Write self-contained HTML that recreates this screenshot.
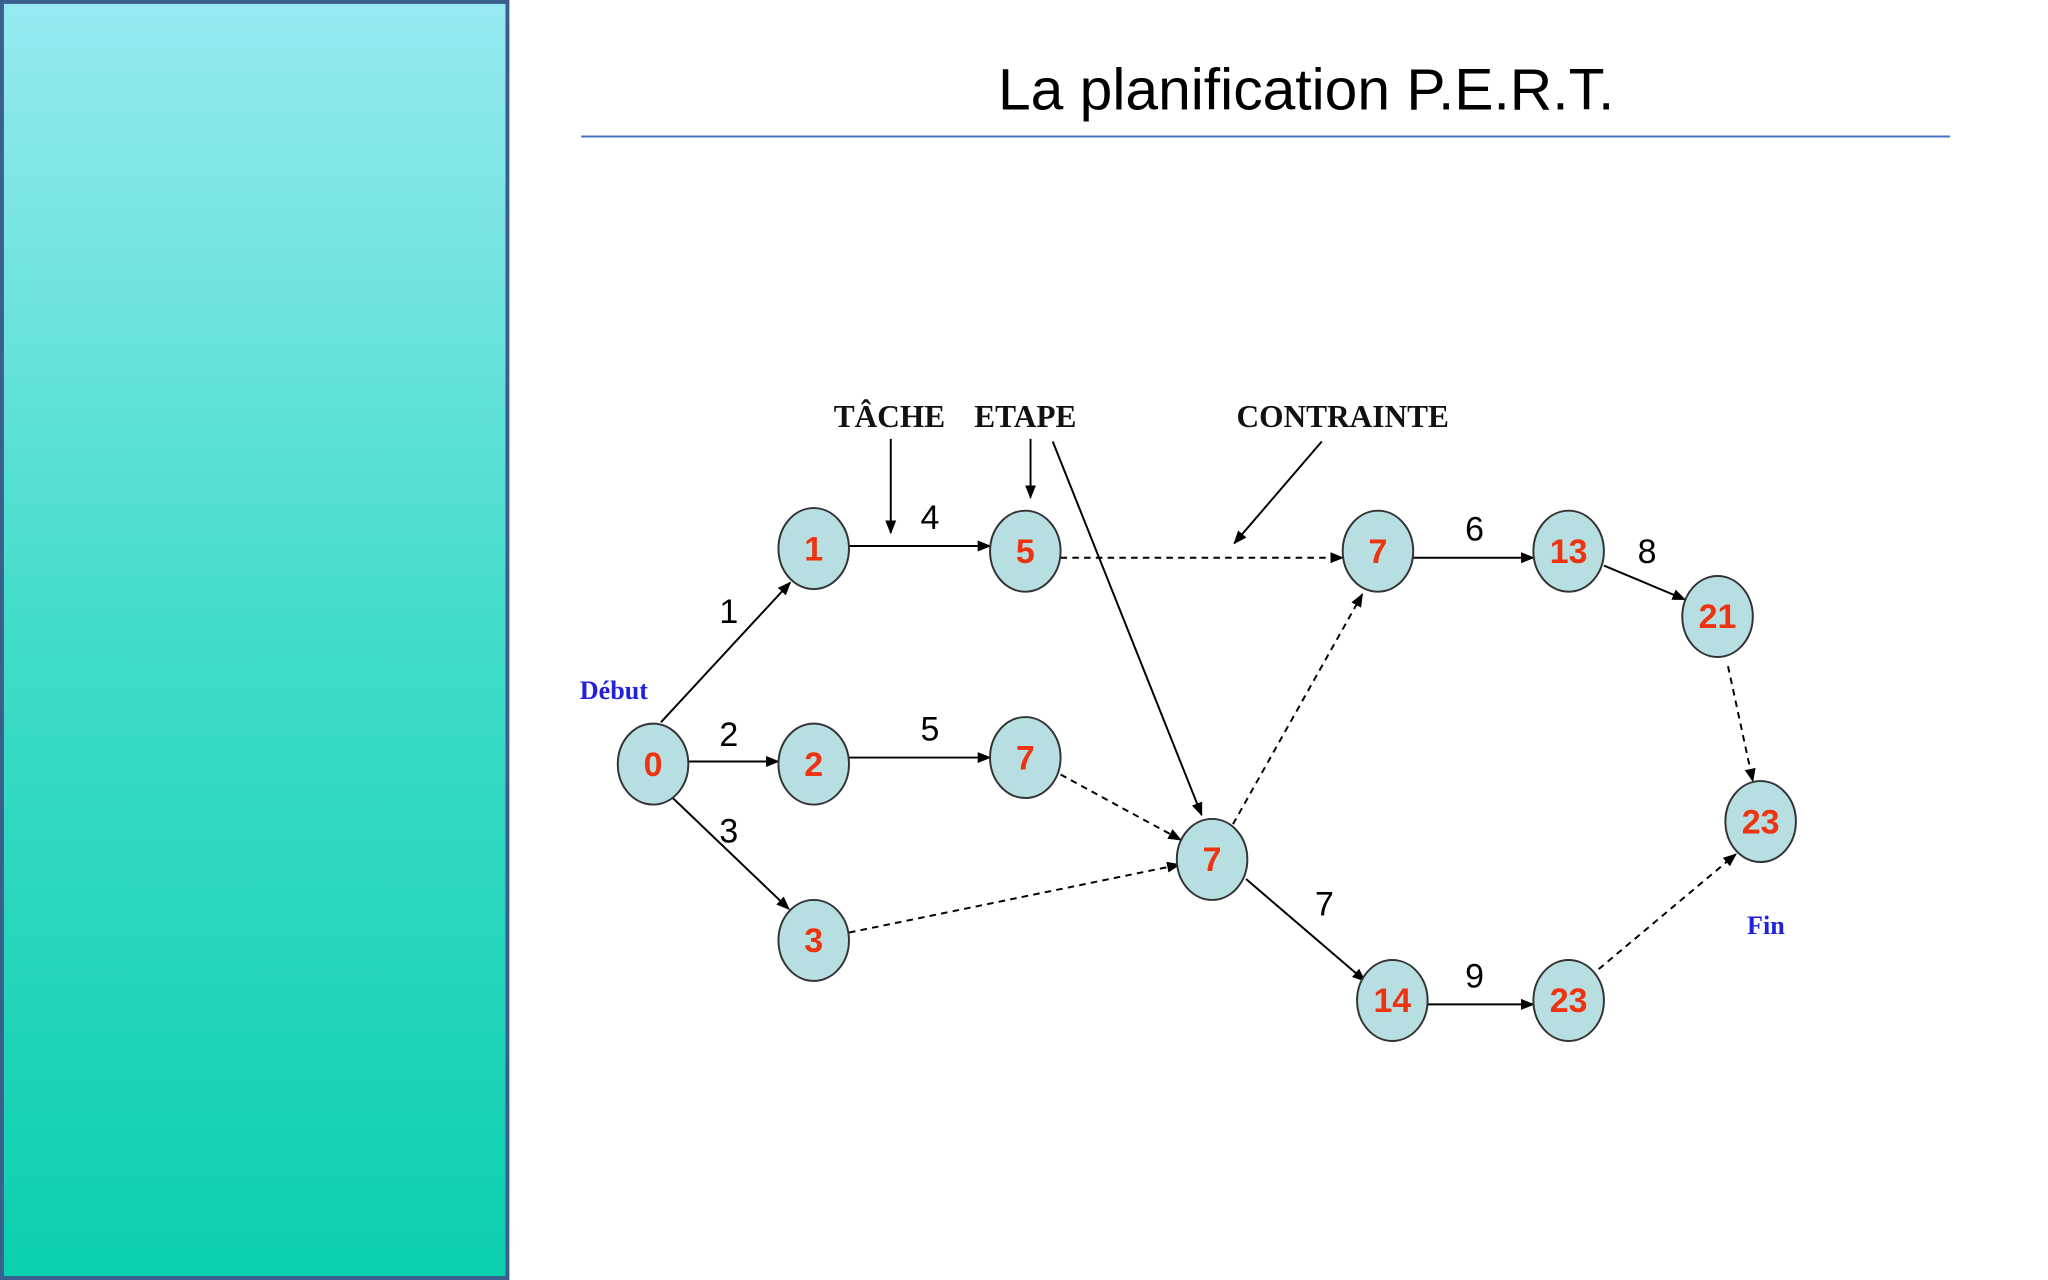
<!DOCTYPE html>
<html><head><meta charset="utf-8"><style>
html,body{margin:0;padding:0;width:2048px;height:1280px;overflow:hidden;background:#fff}
</style></head><body>
<svg width="2048" height="1280" viewBox="0 0 1568 980" xmlns="http://www.w3.org/2000/svg">
<defs>
<linearGradient id="g" x1="0" y1="0" x2="0" y2="1">
<stop offset="0" stop-color="#97e9f2"/><stop offset="0.5" stop-color="#3fdcc8"/><stop offset="1" stop-color="#0bcfae"/>
</linearGradient>
<marker id="a" viewBox="0 0 10 10" refX="9" refY="5" markerWidth="7" markerHeight="7" orient="auto"><path d="M0,1 L10,5 L0,9 z" fill="#000"/></marker>
</defs>
<rect x="1.5" y="1.5" width="387" height="977" fill="url(#g)" stroke="#3a5f8f" stroke-width="3"/>
<text x="1000" y="84" font-family="Liberation Sans, sans-serif" font-size="45" text-anchor="middle" fill="#000">La planification P.E.R.T.</text>
<line x1="445" y1="104.5" x2="1493" y2="104.5" stroke="#4472c4" stroke-width="1.5"/>
<g font-family="Liberation Serif, serif" font-weight="bold" font-size="24" fill="#111" text-anchor="middle">
<text x="681" y="327">TÂCHE</text><text x="785" y="327">ETAPE</text><text x="1028" y="327">CONTRAINTE</text>
</g>
<g font-family="Liberation Serif, serif" font-weight="bold" font-size="20" fill="#2222dd" text-anchor="middle">
<text x="470" y="535">Début</text><text x="1352" y="715">Fin</text>
</g>
<g stroke="#000" stroke-width="1.5" fill="none" marker-end="url(#a)">
<line x1="682" y1="336" x2="682" y2="408"/>
<line x1="789" y1="336" x2="789" y2="381"/>
<line x1="806" y1="338" x2="920" y2="624"/>
<line x1="1012" y1="338" x2="945" y2="416"/>
<line x1="506" y1="553" x2="605" y2="446"/>
<line x1="527" y1="583" x2="596" y2="583"/>
<line x1="512" y1="608" x2="604" y2="696"/>
<line x1="650" y1="418" x2="758" y2="418"/>
<line x1="650" y1="580" x2="758" y2="580"/>
<line x1="1082" y1="427" x2="1174" y2="427"/>
<line x1="1228" y1="433" x2="1290" y2="459"/>
<line x1="954" y1="673" x2="1045" y2="751"/>
<line x1="1093" y1="769" x2="1174" y2="769"/>
</g>
<g stroke="#000" stroke-width="1.5" fill="none" stroke-dasharray="5,4" marker-end="url(#a)">
<line x1="812" y1="427" x2="1028" y2="427"/>
<line x1="812" y1="593" x2="904" y2="643"/>
<line x1="650" y1="714" x2="903" y2="662"/>
<line x1="944" y1="631" x2="1043" y2="455"/>
<line x1="1323" y1="510" x2="1342" y2="598"/>
<line x1="1224" y1="742" x2="1329" y2="654"/>
</g>
<g font-family="Liberation Sans, sans-serif" font-size="26" fill="#000" text-anchor="middle">
<text x="558" y="477">1</text><text x="712" y="405">4</text><text x="558" y="571">2</text><text x="712" y="567">5</text>
<text x="558" y="645">3</text><text x="1129" y="414">6</text><text x="1261" y="431">8</text><text x="1014" y="701">7</text><text x="1129" y="756">9</text>
</g>
<g stroke="#333" stroke-width="1.5" fill="#b7dfe2">
<ellipse cx="500" cy="585" rx="27" ry="31"/><ellipse cx="623" cy="420" rx="27" ry="31"/>
<ellipse cx="623" cy="585" rx="27" ry="31"/><ellipse cx="623" cy="720" rx="27" ry="31"/>
<ellipse cx="785" cy="422" rx="27" ry="31"/><ellipse cx="785" cy="580" rx="27" ry="31"/>
<ellipse cx="928" cy="658" rx="27" ry="31"/><ellipse cx="1055" cy="422" rx="27" ry="31"/>
<ellipse cx="1201" cy="422" rx="27" ry="31"/><ellipse cx="1315" cy="472" rx="27" ry="31"/>
<ellipse cx="1348" cy="629" rx="27" ry="31"/><ellipse cx="1066" cy="766" rx="27" ry="31"/>
<ellipse cx="1201" cy="766" rx="27" ry="31"/>
</g>
<g font-family="Liberation Sans, sans-serif" font-weight="bold" font-size="26" fill="#ee3311" text-anchor="middle">
<text x="500" y="594">0</text><text x="623" y="429">1</text><text x="623" y="594">2</text><text x="623" y="729">3</text>
<text x="785" y="431">5</text><text x="785" y="589">7</text><text x="928" y="667">7</text><text x="1055" y="431">7</text>
<text x="1201" y="431">13</text><text x="1315" y="481">21</text><text x="1348" y="638">23</text><text x="1066" y="775">14</text><text x="1201" y="775">23</text>
</g>
</svg>
</body></html>
